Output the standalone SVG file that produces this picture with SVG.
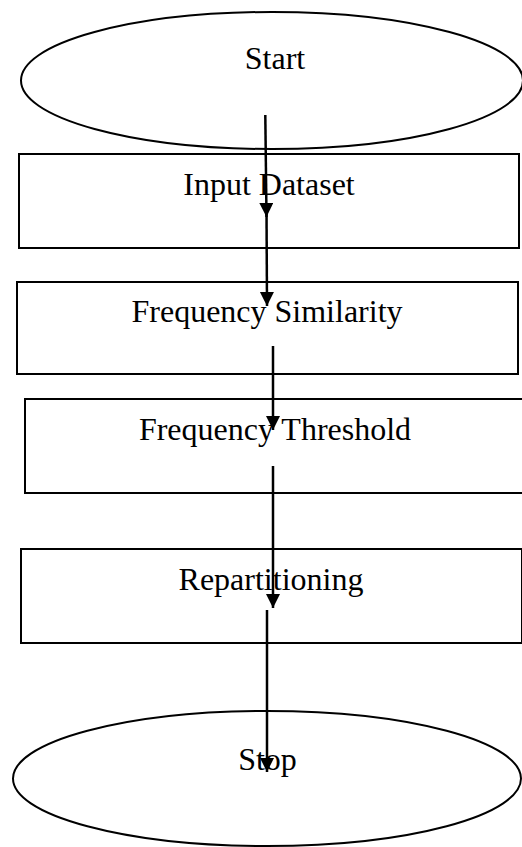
<svg xmlns="http://www.w3.org/2000/svg" width="522" height="847" viewBox="0 0 522 847">
<defs>
<style>
.shape{fill:none;stroke:#000;stroke-width:2}
.lbl{font-family:"Liberation Serif","Times New Roman",serif;font-size:32px;fill:#000;text-anchor:middle}
.conn{stroke:#000;stroke-width:2.5;fill:none}
</style>
<marker id="ah" markerUnits="userSpaceOnUse" markerWidth="14" markerHeight="15" refX="14" refY="7" orient="auto">
<path d="M0,0 L14,7 L0,14 Z" fill="#000"/>
</marker>
</defs>
<rect width="522" height="847" fill="#fff"/>
<g id="start">
<ellipse class="shape" cx="272" cy="80.5" rx="251" ry="68.5"/>
<text class="lbl" x="275" y="69">Start</text>
</g>
<g id="input">
<rect class="shape" x="19" y="154" width="500" height="94"/>
<text class="lbl" x="269" y="195">Input Dataset</text>
</g>
<g id="freqsim">
<rect class="shape" x="17" y="282" width="501" height="92"/>
<text class="lbl" x="267" y="322">Frequency Similarity</text>
</g>
<g id="freqthr">
<rect class="shape" x="25" y="399" width="510" height="94"/>
<text class="lbl" x="275" y="440">Frequency Threshold</text>
</g>
<g id="repart">
<rect class="shape" x="21" y="549" width="501" height="94"/>
<text class="lbl" x="271" y="590">Repartitioning</text>
</g>
<g id="stop">
<ellipse class="shape" cx="267" cy="778.5" rx="254" ry="67.5"/>
<text class="lbl" x="267.5" y="770">Stop</text>
</g>
<g id="connectors">
<line class="conn" x1="265.3" y1="115" x2="266.5" y2="217" marker-end="url(#ah)"/>
<line class="conn" x1="266.5" y1="210" x2="267" y2="306" marker-end="url(#ah)"/>
<line class="conn" x1="273" y1="346" x2="273" y2="430" marker-end="url(#ah)"/>
<line class="conn" x1="273" y1="466" x2="273" y2="608" marker-end="url(#ah)"/>
<line class="conn" x1="267" y1="610" x2="267" y2="772" marker-end="url(#ah)"/>
</g>
</svg>
